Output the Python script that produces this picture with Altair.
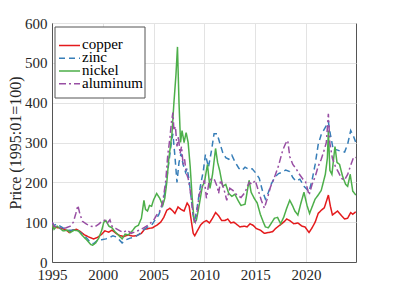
import altair as alt
import pandas as pd

copper_t = [1995.0, 1995.3, 1995.6, 1996.0, 1996.4, 1996.7, 1997.0, 1997.4, 1997.8, 1998.2, 1998.6, 1999.1,
            1999.5, 1999.9, 2000.2, 2000.6, 2000.9, 2001.3, 2001.7, 2002.1, 2002.5, 2002.9, 2003.3, 2003.8,
            2004.1, 2004.5, 2004.9, 2005.3, 2005.7, 2006.0, 2006.3, 2006.6, 2006.9, 2007.1, 2007.4, 2007.7,
            2008.0, 2008.3, 2008.5, 2008.7, 2008.9, 2009.05, 2009.3, 2009.6, 2009.9, 2010.2, 2010.5, 2010.8,
            2011.1, 2011.4, 2011.7, 2012.0, 2012.3, 2012.6, 2012.9, 2013.2, 2013.5, 2013.9, 2014.2, 2014.5,
            2014.8, 2015.1, 2015.5, 2015.9, 2016.3, 2016.7, 2017.0, 2017.4, 2017.8, 2018.1, 2018.4, 2018.8,
            2019.2, 2019.6, 2019.9, 2020.3, 2020.6, 2020.9, 2021.2, 2021.5, 2021.8, 2022.2, 2022.4, 2022.6,
            2022.9, 2023.1, 2023.5, 2023.8, 2024.1, 2024.4, 2024.6, 2024.9]
copper_v = [90, 88, 86, 84, 80, 74, 80, 82, 76, 68, 63, 58,
            62, 70, 78, 75, 80, 72, 66, 64, 68, 65, 66, 72,
            82, 84, 86, 92, 100, 112, 130, 135, 128, 122, 138, 132,
            128, 148, 140, 105, 72, 66, 78, 92, 100, 104, 98, 110,
            124, 116, 104, 104, 108, 98, 100, 94, 88, 90, 88, 96,
            92, 84, 80, 72, 74, 76, 84, 92, 100, 108, 104, 96,
            98, 90, 88, 74, 86, 100, 122, 130, 136, 168, 140, 118,
            124, 128, 116, 108, 110, 124, 120, 126]

zinc_t = [1995.0, 1995.2, 1995.5, 1995.8, 1996.2, 1996.6, 1997.0, 1997.4, 1997.7, 1998.1, 1998.5, 1998.8,
          1999.1, 1999.5, 1999.9, 2000.3, 2000.7, 2001.0, 2001.4, 2001.9, 2002.3, 2002.7, 2003.1, 2003.6,
          2004.0, 2004.4, 2004.8, 2005.1, 2005.5, 2005.9, 2006.2, 2006.5, 2006.75, 2006.9, 2007.1, 2007.3,
          2007.5, 2007.7, 2007.9, 2008.15, 2008.3, 2008.5, 2008.7, 2008.9, 2009.05, 2009.3, 2009.6, 2009.9,
          2010.1, 2010.4, 2010.7, 2010.95, 2011.25, 2011.5, 2011.8, 2012.1, 2012.4, 2012.7, 2013.0, 2013.4,
          2013.7, 2014.0, 2014.4, 2014.7, 2015.0, 2015.4, 2015.7, 2016.0, 2016.3, 2016.6, 2017.0, 2017.3,
          2017.7, 2018.0, 2018.4, 2018.7, 2019.0, 2019.4, 2019.8, 2020.3, 2020.6, 2020.9, 2021.2, 2021.5,
          2021.9, 2022.2, 2022.4, 2022.7, 2023.0, 2023.4, 2023.8, 2024.1, 2024.4, 2024.7, 2024.9]
zinc_v = [100, 92, 96, 90, 84, 80, 80, 82, 76, 68, 58, 48,
          46, 55, 56, 58, 62, 66, 62, 48, 56, 60, 62, 70,
          80, 88, 92, 104, 118, 145, 190, 250, 300, 322, 265, 200,
          250, 272, 245, 225, 235, 205, 160, 115, 104, 140, 190, 230,
          270, 238, 280, 322, 322, 300, 275, 262, 258, 268, 252, 235,
          230, 238, 232, 234, 225, 210, 180, 158, 175, 197, 215, 222,
          226, 231, 227, 212, 203, 208, 190, 177, 206, 245, 295, 320,
          338, 352, 320, 280, 282, 278, 276, 296, 330, 314, 300]

nickel_t = [1995.0, 1995.2, 1995.5, 1995.8, 1996.1, 1996.5, 1996.8, 1997.2, 1997.6, 1998.0, 1998.4, 1998.8,
            1999.0, 1999.3, 1999.6, 1999.9, 2000.1, 2000.3, 2000.6, 2000.9, 2001.2, 2001.6, 2001.9, 2002.2,
            2002.5, 2002.9, 2003.2, 2003.5, 2003.8, 2004.05, 2004.2, 2004.4, 2004.6, 2004.8, 2005.0, 2005.3,
            2005.6, 2005.9, 2006.1, 2006.3, 2006.5, 2006.8, 2007.0, 2007.2, 2007.35, 2007.5, 2007.65, 2007.8,
            2008.0, 2008.2, 2008.4, 2008.6, 2008.8, 2009.0, 2009.2, 2009.4, 2009.6, 2009.8, 2010.0, 2010.3,
            2010.55, 2010.8, 2011.1, 2011.3, 2011.5, 2011.8, 2012.1, 2012.4, 2012.7, 2013.0, 2013.3, 2013.6,
            2014.0, 2014.4, 2014.6, 2014.9, 2015.2, 2015.5, 2015.8, 2016.0, 2016.3, 2016.6, 2016.9, 2017.2,
            2017.5, 2017.8, 2018.1, 2018.4, 2018.7, 2018.9, 2019.2, 2019.5, 2019.8, 2020.1, 2020.35, 2020.7,
            2020.9, 2021.2, 2021.5, 2021.9, 2022.1, 2022.2, 2022.35, 2022.55, 2022.85, 2023.05, 2023.3, 2023.6,
            2023.9, 2024.1, 2024.35, 2024.6, 2024.9]
nickel_v = [95, 82, 90, 84, 78, 80, 74, 80, 78, 66, 56, 44,
            42, 48, 60, 80, 100, 104, 90, 86, 76, 66, 58, 70,
            68, 78, 88, 92, 110, 155, 132, 128, 142, 140, 156, 172,
            160, 142, 160, 200, 260, 320, 400, 470, 540, 400, 300, 330,
            300, 325, 300, 240, 160, 100, 104, 130, 160, 190, 200, 245,
            185, 220, 285, 250, 230, 190, 195, 172, 165, 170, 155, 142,
            145, 205, 175, 160, 148, 120, 100, 88, 86, 98, 110, 112,
            96, 112, 135, 155, 140, 128, 118, 148, 175, 142, 122, 145,
            158, 168, 180, 220, 260, 330, 230, 220, 290, 250, 245, 215,
            195, 190, 220, 178, 168]

aluminum_t = [1995.0, 1995.2, 1995.6, 1996.0, 1996.4, 1996.8, 1997.1, 1997.35, 1997.55, 1997.75, 1998.0, 1998.4,
              1998.8, 1999.2, 1999.6, 1999.9, 2000.2, 2000.45, 2000.7, 2000.9, 2001.3, 2001.7, 2002.0, 2002.4,
              2002.8, 2003.2, 2003.6, 2003.9, 2004.3, 2004.7, 2005.0, 2005.3, 2005.6, 2005.9, 2006.2, 2006.4,
              2006.6, 2006.75, 2006.9, 2007.0, 2007.15, 2007.3, 2007.45, 2007.6, 2007.75, 2007.9, 2008.05, 2008.2,
              2008.4, 2008.6, 2008.8, 2008.95, 2009.1, 2009.3, 2009.5, 2009.8, 2010.0, 2010.2, 2010.45, 2010.7,
              2011.0, 2011.25, 2011.4, 2011.6, 2011.9, 2012.2, 2012.5, 2012.8, 2013.2, 2013.6, 2014.0, 2014.4,
              2014.7, 2015.0, 2015.3, 2015.6, 2015.9, 2016.2, 2016.5, 2016.9, 2017.3, 2017.7, 2018.0, 2018.2,
              2018.4, 2018.7, 2019.0, 2019.3, 2019.7, 2019.95, 2020.3, 2020.6, 2020.9, 2021.2, 2021.5, 2021.8,
              2022.0, 2022.2, 2022.35, 2022.6, 2022.9, 2023.2, 2023.5, 2023.8, 2024.1, 2024.4, 2024.7, 2024.9]
aluminum_v = [100, 90, 88, 84, 86, 90, 100, 122, 142, 120, 102, 95,
              90, 88, 95, 102, 105, 98, 106, 90, 84, 78, 74, 80,
              72, 76, 80, 84, 90, 98, 105, 118, 128, 150, 205, 270,
              310, 350, 375, 330, 340, 290, 315, 272, 290, 245, 258, 225,
              210, 180, 140, 108, 100, 130, 170, 190, 206, 160, 200, 210,
              206, 190, 172, 206, 185, 155, 185, 180, 168, 162, 175, 200,
              195, 205, 180, 155, 135, 160, 188, 213, 242, 280, 298, 305,
              265, 245, 235, 222, 208, 202, 168, 195, 214, 240, 258, 282,
              300, 372, 298, 260, 239, 225, 210, 206, 220, 243, 264, 262]

metals = ["copper", "zinc", "nickel", "aluminum"]
colors = ["#e41a1c", "#377eb8", "#4daf4a", "#984ea3"]
dashes = [[1, 0], [6, 4], [1, 0], [7, 3, 2, 3]]

rows = []
for order, (name, ts, vs) in enumerate([("copper", copper_t, copper_v), ("zinc", zinc_t, zinc_v),
                                        ("nickel", nickel_t, nickel_v), ("aluminum", aluminum_t, aluminum_v)]):
    for t, v in zip(ts, vs):
        rows.append({"metal": name, "year": t, "price": v, "ord": order})
df = pd.DataFrame(rows)
leg_df = pd.DataFrame({"metal": metals})

x_ticks = [1995, 2000, 2005, 2010, 2015, 2020]
y_ticks = [0, 100, 200, 300, 400, 500, 600]

SERIF = "Liberation Serif"

color_enc = alt.Color("metal:N", scale=alt.Scale(domain=metals, range=colors), legend=None)
dash_enc = alt.StrokeDash("metal:N", scale=alt.Scale(domain=metals, range=dashes), legend=None)

lines = alt.Chart(df).mark_line(strokeWidth=1.5, clip=True).encode(
    x=alt.X("year:Q", scale=alt.Scale(domain=[1995, 2024.92], nice=False, zero=False),
            axis=alt.Axis(values=x_ticks, format="d", title=None, labelFlush=False)),
    y=alt.Y("price:Q", scale=alt.Scale(domain=[0, 600], nice=False),
            axis=alt.Axis(values=y_ticks, title="Price (1995:01=100)", labelFlush=False)),
    color=color_enc,
    strokeDash=dash_enc,
    order="ord:Q",
)

# legend (box, line samples, labels)
leg_y = alt.Y("metal:N", scale=alt.Scale(domain=metals, range=[16, 67]), axis=None)

leg_box = alt.Chart(pd.DataFrame({"k": [0]})).mark_rect(
    fill="white", stroke="#555555", strokeWidth=1
).encode(x=alt.value(3), x2=alt.value(93), y=alt.value(4), y2=alt.value(75))

leg_rule = alt.Chart(leg_df).mark_rule(strokeWidth=1.5).encode(
    x=alt.value(7), x2=alt.value(28), y=leg_y, color=color_enc, strokeDash=dash_enc,
)

leg_text = alt.Chart(leg_df).mark_text(
    align="left", baseline="middle", font=SERIF, fontSize=15, color="#000000", dy=-1
).encode(x=alt.value(30), y=leg_y, text="metal:N")

chart = alt.layer(lines, leg_box, leg_rule, leg_text).resolve_scale(
    y="independent"
).properties(
    width=304, height=239,
    padding={"left": 44, "top": 15, "right": 20, "bottom": 20},
    autosize=alt.AutoSizeParams(type="none"),
).configure(
    font=SERIF,
).configure_view(
    stroke="#555555", strokeWidth=1,
).configure_axis(
    labelFont=SERIF, labelFontSize=15, labelColor="#262626",
    titleFont=SERIF, titleFontSize=16, titleColor="#262626", titleFontWeight="normal",
    domainColor="#555555", ticks=False, labelPadding=5, titlePadding=1,
    gridColor="#e3e3e3", gridWidth=1,
)

chart.save("out.html", embed_options={"renderer": "svg", "actions": False})
